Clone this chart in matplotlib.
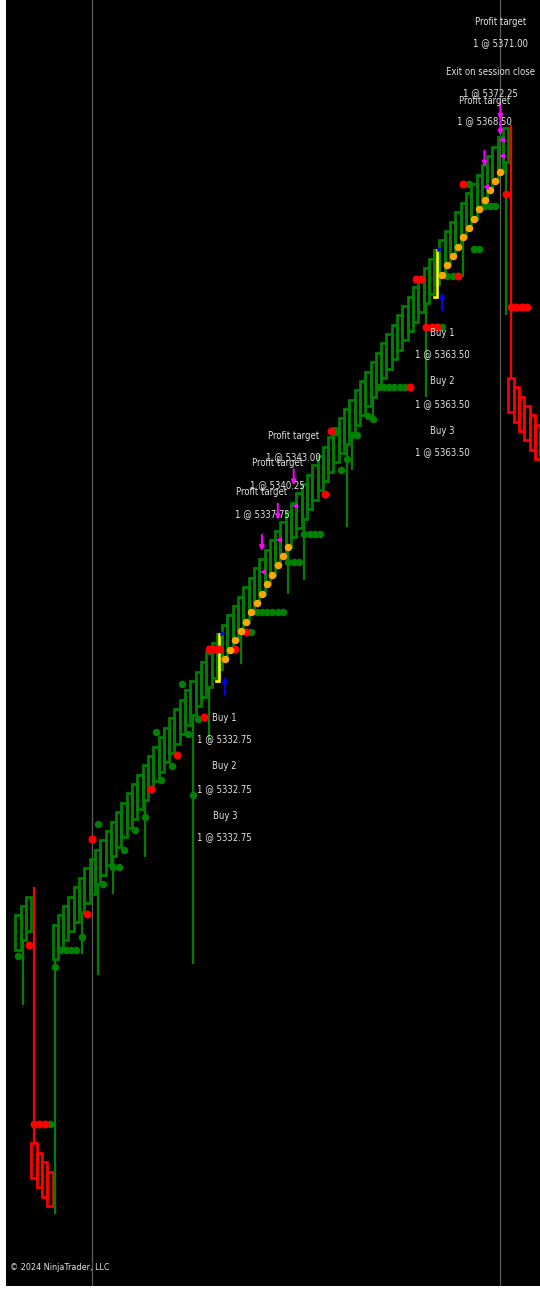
import matplotlib
matplotlib.use("Agg")
import matplotlib.pyplot as plt
from matplotlib import font_manager
from matplotlib.font_manager import FontProperties
from matplotlib.patches import Rectangle

# renko-style bars, one entry per bar index (brick 0.75)
closes = [5310.25, 5311.00, 5311.75,
          5289.25, 5288.50, 5287.75, 5287.00,
          5309.50, 5310.25, 5311.00, 5311.75, 5312.50, 5313.25, 5314.00, 5314.75, 5315.50, 5316.25,
          5317.00, 5317.75, 5318.50, 5319.25, 5320.00, 5320.75, 5321.50, 5322.25, 5323.00, 5323.75,
          5324.50, 5325.25, 5326.00, 5326.75, 5327.50, 5328.25, 5329.00, 5329.75, 5330.50, 5331.25,
          5332.00, 5332.75, 5333.50, 5334.25, 5335.00, 5335.75, 5336.50, 5337.25, 5338.00, 5338.75,
          5339.50, 5340.25, 5341.00, 5341.75, 5342.50, 5343.25, 5344.00, 5344.75, 5345.50, 5346.25,
          5347.00, 5347.75, 5348.50, 5349.25, 5350.00, 5350.75, 5351.50, 5352.25, 5353.00, 5353.75,
          5354.50, 5355.25, 5356.00, 5356.75, 5357.50, 5358.25, 5359.00, 5359.75, 5360.50, 5361.25,
          5362.00, 5362.75, 5363.50, 5364.25, 5365.00, 5365.75, 5366.50, 5367.25, 5368.00, 5368.75,
          5369.50, 5370.25, 5371.00, 5371.75, 5372.50, 5373.25,
          5350.50, 5349.75, 5349.00, 5348.25, 5347.50, 5346.75]

wick_low_bars = [1, 7, 12, 15, 18, 24, 33, 36, 42, 51, 54, 62, 63, 67, 77, 84, 92]
wick_low_prices = [5303.1, 5286.4, 5307.2, 5305.5, 5312.0, 5314.9, 5306.4, 5324.3, 5330.4,
                   5336.0, 5337.1, 5341.3, 5345.9, 5349.9, 5351.7, 5361.3, 5358.3]
wick_high_bars = [3, 93]
wick_high_prices = [5312.5, 5373.5]

green_dot_bars = [0, 6, 7, 8, 9, 10, 11, 12, 15, 16, 18, 19, 20, 22, 24, 26, 27, 29, 31, 32, 33, 34, 44,
                  45, 46, 47, 48, 49, 50, 51, 52, 53, 54, 55, 56, 57, 60, 61, 62, 63, 64, 66, 67,
                  68, 69, 70, 71, 72, 73, 80, 81, 82, 85, 86, 87, 88, 89, 90]
green_dot_prices = [5307.0, 5293.6, 5306.1, 5307.5, 5307.5, 5307.5, 5307.5, 5308.5, 5317.6, 5312.8,
                    5314.1, 5314.1, 5315.5, 5317.1, 5318.1, 5324.9, 5321.1, 5322.2, 5328.8, 5324.8,
                    5319.9, 5326.0, 5332.9,
                    5334.5, 5334.5, 5334.5, 5334.5, 5334.5, 5334.5, 5338.5, 5338.5, 5338.5,
                    5340.8, 5340.8, 5340.8, 5340.8, 5348.9, 5345.9, 5346.8, 5348.7, 5348.7,
                    5350.2, 5350.0, 5352.5, 5352.5, 5352.5, 5352.5, 5352.5, 5352.5,
                    5357.3, 5361.4, 5361.4, 5368.8, 5363.6, 5363.6, 5367.0, 5367.0, 5367.0]

red_dot_bars = [2, 3, 4, 5, 13, 14, 25, 30, 35, 36, 37, 38, 41, 43, 58, 59, 74, 75, 76,
                77, 78, 79, 83, 84, 92, 93, 94, 95, 96]
red_dot_prices = [5307.9, 5293.6, 5293.6, 5293.6, 5310.4, 5316.4, 5320.4, 5323.1, 5326.1,
                  5331.6, 5331.6, 5331.6, 5331.6, 5332.9, 5344.0, 5349.0, 5352.5, 5361.2, 5361.2,
                  5357.3, 5357.3, 5357.3, 5361.4, 5368.8, 5368.0, 5358.9, 5358.9, 5358.9, 5358.9]

orange_dot_bars = [39, 40, 41, 42, 43, 44, 45, 46, 47, 48, 49, 50, 51,
                   80, 81, 82, 83, 84, 85, 86, 87, 88, 89, 90, 91]
orange_dot_prices = [5330.75, 5331.50, 5332.25, 5333.00, 5333.75, 5334.50, 5335.25, 5336.00,
                     5336.75, 5337.50, 5338.25, 5339.00, 5339.75,
                     5361.50, 5362.25, 5363.00, 5363.75, 5364.50, 5365.25, 5366.00, 5366.75,
                     5367.50, 5368.25, 5369.00, 5369.75]

signal_bars = [38, 79]
signal_lows = [5329.0, 5359.75]

entry_bars = [39, 80]
entry_prices = [5332.75, 5363.50]
entry_names = ["Buy 1", "Buy 2", "Buy 3"]

exit_bars = [46, 49, 52, 88, 91, 91]
exit_prices = [5337.75, 5340.25, 5343.00, 5368.50, 5371.00, 5372.25]
exit_names = ["Profit target", "Profit target", "Profit target", "Profit target",
              "Profit target", "Exit on session close"]

session_breaks = [13.9, 90.9]

BODY = 2.75
GREEN = "#008000"
RED = "#ff0000"
TXT = "#e4e4e4"


def narrow_font():
    # chart labels are drawn in a condensed face; use one if the box has it
    prefs = ["Liberation Sans Narrow", "DejaVu Sans", "Roboto Condensed", "Roboto",
             "Open Sans", "Noto Sans", "Lato", "Inter"]
    cands = []
    for f in font_manager.fontManager.ttflist:
        narrowish = (str(f.stretch) in ("condensed", "semi-condensed", "extra-condensed",
                                        "ultra-condensed")
                     or "Narrow" in f.name or "Condensed" in f.name)
        if narrowish and f.style == "normal" and f.weight in (400, "normal", "regular", "book"):
            cands.append(f)
    for p in prefs:
        for f in cands:
            if f.name == p:
                return f.fname
    return cands[0].fname if cands else None


fname = narrow_font()
if fname:
    lab_font = FontProperties(fname=fname, size=9.5)
    copy_font = FontProperties(fname=fname, size=9)
else:
    lab_font = FontProperties(family="DejaVu Sans", size=8.5)
    copy_font = FontProperties(family="DejaVu Sans", size=7.5)

fig = plt.figure(figsize=(540 / 72, 1290 / 72), dpi=72, facecolor="white")
ax = fig.add_axes([6 / 540, 4 / 1290, 534 / 540, 1286 / 1290])
ax.set_facecolor("black")
ax.set_xlim(-2.28, 98.47)
ax.set_ylim(5280.6, 5383.48)
ax.set_xticks([])
ax.set_yticks([])
for s in ax.spines.values():
    s.set_visible(False)

for b in session_breaks:
    ax.axvline(b, color="#5a5a5a", lw=1.3, zorder=1)

# bar bodies (hollow)
for i, c in enumerate(closes):
    up = i == 0 or c >= closes[i - 1]
    col = GREEN if up else RED
    bottom = c - BODY if up else c
    ax.add_patch(Rectangle((i - 0.5, bottom), 1.0, BODY, fill=False,
                           edgecolor=col, lw=2.7, zorder=3))

# wicks
for b, lo in zip(wick_low_bars, wick_low_prices):
    ax.vlines(b, lo, closes[b] - BODY, color=GREEN, lw=2.2, zorder=3)
for b, hi in zip(wick_high_bars, wick_high_prices):
    ax.vlines(b, closes[b] + BODY, hi, color=RED, lw=2.2, zorder=3)

# signal bars
for b, lo in zip(signal_bars, signal_lows):
    ax.plot([b - 0.6, b, b], [lo, lo, closes[b]], color="#ffff00", lw=2.6, zorder=4,
            solid_joinstyle="miter")

# indicator dots
ax.plot(green_dot_bars, green_dot_prices, "o", color=GREEN, ms=7.5, mew=0, zorder=5)
ax.plot(red_dot_bars, red_dot_prices, "o", color=RED, ms=8, mew=0, zorder=5)
ax.plot(orange_dot_bars, orange_dot_prices, "o", color="#ffa500", ms=7.5, mew=0, zorder=5)

# entries
buy_offsets = [-21, -42, -69, -92, -119, -140]
for b, p in zip(entry_bars, entry_prices):
    tail = p - 5.0
    ax.annotate("", xy=(b, p - 3.25), xytext=(b, tail),
                arrowprops=dict(arrowstyle="-|>", color="#0000ff", lw=2, mutation_scale=9),
                zorder=6)
    ax.plot(b - 0.35, p, ">", color="#0000ff", ms=5, mew=0, zorder=6)
    for j, name in enumerate(entry_names):
        for k, t in enumerate([name, "1 @ %.2f" % p]):
            ax.annotate(t, xy=(b, tail), xytext=(0, buy_offsets[2 * j + k]),
                        textcoords="offset points", ha="center", va="center",
                        color=TXT, fontproperties=lab_font, zorder=7)

# exits; the session-close label is nudged left so it stays on the chart
exit_offsets = [(0, 41, 19), (0, 39, 17), (0, 31, 10), (0, 48, 27), (0, 95, 74), (-10, 30, 9)]
for b, p, name, off in zip(exit_bars, exit_prices, exit_names, exit_offsets):
    tail = p + 3.1
    ax.annotate("", xy=(b, p + 1.5), xytext=(b, tail),
                arrowprops=dict(arrowstyle="-|>", color="#ff00ff", lw=2, mutation_scale=9),
                zorder=6)
    ax.plot(b + 0.3, p, "<", color="#ff00ff", ms=6, mew=0, zorder=6)
    for t, dy in zip([name, "1 @ %.2f" % p], off[1:]):
        ax.annotate(t, xy=(b, tail), xytext=(off[0], dy), textcoords="offset points",
                    ha="center", va="center", color=TXT, fontproperties=lab_font, zorder=7)

fig.text(10 / 540, 1 - 1267 / 1290, "\u00a9 2024 NinjaTrader, LLC", color=TXT,
         fontproperties=copy_font, va="center", ha="left")

fig.savefig("out.png", dpi=72, facecolor="white")
